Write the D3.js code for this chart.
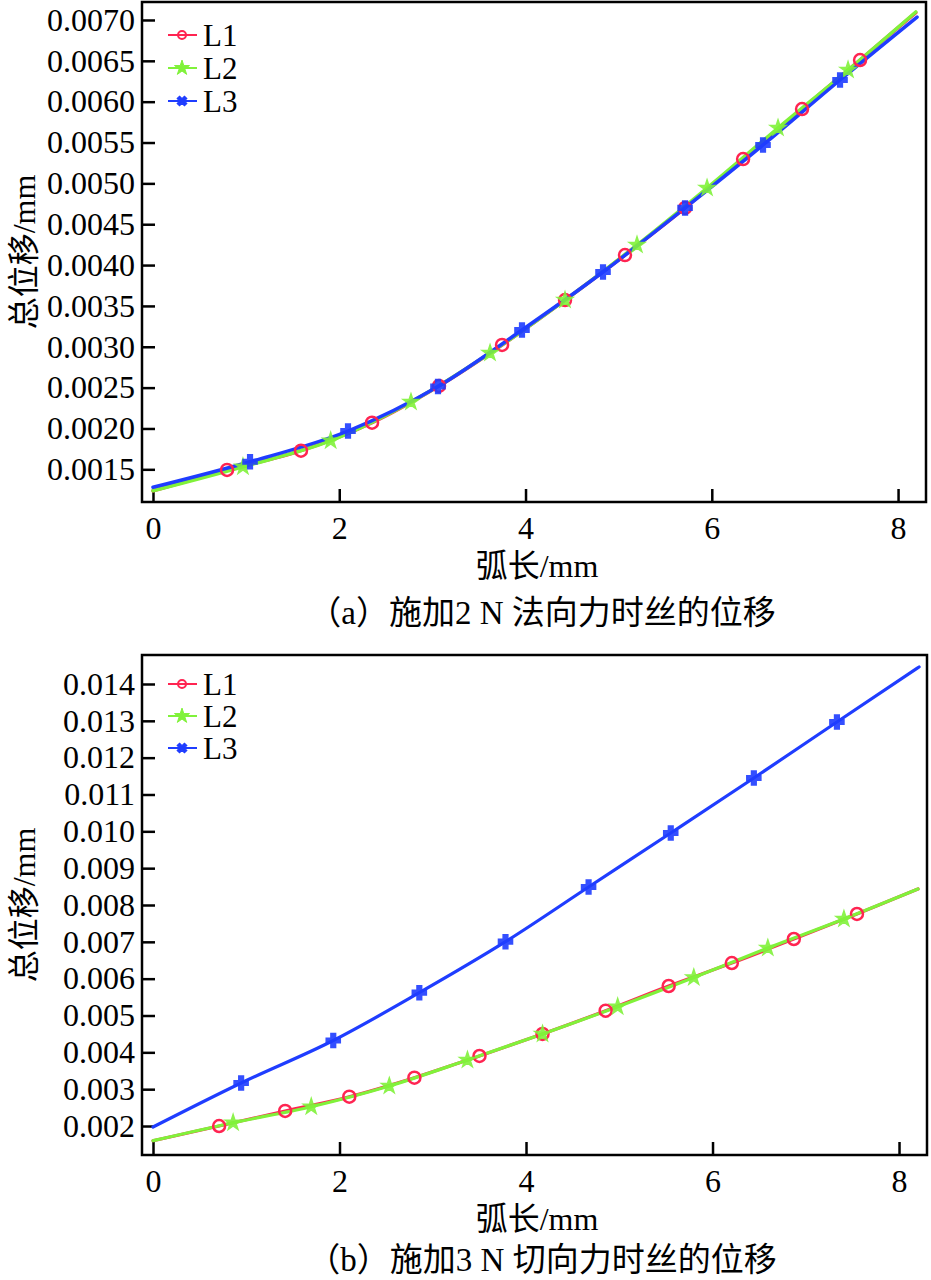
<!DOCTYPE html>
<html>
<head>
<meta charset="utf-8">
<script src="https://cdn.jsdelivr.net/npm/d3@7"></script>
<style>
  html, body { margin: 0; padding: 0; background: #fff; }
  svg { display: block; }
  text { font-family: "Liberation Serif", "Noto Sans CJK SC", serif; fill: #000; }
</style>
</head>
<body>
<svg id="chart" width="931" height="1280"></svg>
<script>
// ---------- data ----------
const seriesNames = ["L1", "L2", "L3"];
const seriesColors = ["#ff2451", "#80f23a", "#1f3dff"];
const xTicks = [0, 2, 4, 6, 8];
const yTicksA = [0.0015, 0.0020, 0.0025, 0.0030, 0.0035, 0.0040, 0.0045, 0.0050, 0.0055, 0.0060, 0.0065, 0.0070];
const yTicksB = [0.002, 0.003, 0.004, 0.005, 0.006, 0.007, 0.008, 0.009, 0.010, 0.011, 0.012, 0.013, 0.014];
const xLabel = "弧长/mm";
const yLabel = "总位移/mm";
const captionA = "（a）施加2 N 法向力时丝的位移";
const captionB = "（b）施加3 N 切向力时丝的位移";

// chart (a): first and last points are line ends, inner points carry markers
const a_L1_x = [0, 0.795, 1.589, 2.352, 3.071, 3.748, 4.424, 5.068, 5.713, 6.336, 6.969, 7.592, 8.19];
const a_L1_y = [0.001238, 0.001492, 0.001728, 0.002071, 0.00252, 0.003022, 0.003572, 0.004123, 0.004699, 0.005298, 0.00591, 0.00651, 0.00709];
const a_L2_x = [0, 0.966, 1.908, 2.770, 3.619, 4.424, 5.197, 5.949, 6.711, 7.463, 8.19];
const a_L2_y = [0.001238, 0.001532, 0.00185, 0.002324, 0.002924, 0.003572, 0.004246, 0.004943, 0.005678, 0.006388, 0.007098];
const a_L3_x = [0, 1.042, 2.094, 3.060, 3.962, 4.832, 5.713, 6.550, 7.377, 8.204];
const a_L3_y = [0.00128, 0.001593, 0.001969, 0.002514, 0.003205, 0.003915, 0.004699, 0.00547, 0.006265, 0.007036];

// chart (b)
const b_L1_x = [0, 0.709, 1.417, 2.105, 2.803, 3.501, 4.177, 4.854, 5.530, 6.207, 6.872, 7.549, 8.204];
const b_L1_y = [0.001601, 0.002, 0.002408, 0.002796, 0.003312, 0.003901, 0.004498, 0.00513, 0.005801, 0.006425, 0.007077, 0.007756, 0.008434];
const b_L2_x = [0, 0.859, 1.697, 2.534, 3.372, 4.177, 4.983, 5.799, 6.593, 7.409, 8.204];
const b_L2_y = [0.001601, 0.00209, 0.002524, 0.003086, 0.003792, 0.004498, 0.005239, 0.006032, 0.006833, 0.00762, 0.008434];
const b_L3_x = [0, 0.945, 1.933, 2.856, 3.780, 4.671, 5.552, 6.443, 7.334, 8.215];
const b_L3_y = [0.001973, 0.003168, 0.004321, 0.005619, 0.007004, 0.008489, 0.009955, 0.011448, 0.012968, 0.014461];

// ---------- drawing ----------
const svg = d3.select("#chart");
svg.append("rect").attr("width", 931).attr("height", 1280).attr("fill", "#fff");

const xDomain = [-0.118, 8.30];

function markerPath(i, size) {
  if (i === 1) return d3.symbol().type(d3.symbolStar).size(size)();
  return d3.symbol().type(d3.symbolCross).size(size)();
}

function drawPanel(cfg) {
  const g = svg.append("g");
  const x = d3.scaleLinear().domain(xDomain).range([cfg.left, cfg.right]);
  const y = d3.scaleLinear().domain(cfg.yDomain).range([cfg.bottom, cfg.top]);

  // axes (ticks inward)
  const xAxis = d3.axisBottom(x).tickValues(xTicks).tickFormat(d3.format("d"))
    .tickSizeInner(-13).tickSizeOuter(0).tickPadding(14);
  const gx = g.append("g").attr("transform", `translate(0,${cfg.bottom})`).call(xAxis);
  const yAxis = d3.axisLeft(y).tickValues(cfg.yTicks).tickFormat(d3.format(cfg.fmt))
    .tickSizeInner(-13).tickSizeOuter(0).tickPadding(7);
  const gy = g.append("g").attr("transform", `translate(${cfg.left},0)`).call(yAxis);
  [gx, gy].forEach(a => {
    a.select(".domain").remove();
    a.selectAll(".tick line").attr("stroke", "#000").attr("stroke-width", 2.5);
    a.selectAll(".tick text").attr("font-size", 32)
      .attr("font-family", "Liberation Serif, serif").attr("fill", "#000");
  });
  gx.selectAll(".tick text").attr("dy", null).attr("y", 0)
    .attr("transform", "translate(0,37)");

  // frame
  g.append("rect").attr("x", cfg.left).attr("y", cfg.top)
    .attr("width", cfg.right - cfg.left).attr("height", cfg.bottom - cfg.top)
    .attr("fill", "none").attr("stroke", "#000").attr("stroke-width", 2.5);

  const line = d3.line().x(d => x(d[0])).y(d => y(d[1])).curve(d3.curveMonotoneX);
  const series = cfg.series.map(s => d3.zip(s[0], s[1]));

  series.forEach((pts, i) => {
    g.append("path").attr("d", line(pts)).attr("fill", "none")
      .attr("stroke", seriesColors[i]).attr("stroke-width", cfg.lw)
      .attr("stroke-linejoin", "round").attr("stroke-linecap", "round");
  });
  series.forEach((pts, i) => {
    const inner = pts.slice(1, pts.length - 1);
    if (i === 0) {
      g.selectAll(null).data(inner).enter().append("circle")
        .attr("cx", d => x(d[0])).attr("cy", d => y(d[1])).attr("r", 6)
        .attr("fill", "none").attr("stroke", seriesColors[0]).attr("stroke-width", 2.5);
    } else {
      g.selectAll(null).data(inner).enter().append("path")
        .attr("d", markerPath(i, i === 1 ? 75 : 110))
        .attr("transform", d => `translate(${x(d[0])},${y(d[1])})`)
        .attr("fill", seriesColors[i]).attr("stroke", seriesColors[i])
        .attr("stroke-width", 1.5).attr("opacity", 0.9);
    }
  });

  // legend
  const lg = g.append("g");
  seriesNames.forEach((n, i) => {
    const cy = cfg.legendY[i];
    lg.append("line").attr("x1", 168).attr("x2", 197).attr("y1", cy).attr("y2", cy)
      .attr("stroke", seriesColors[i]).attr("stroke-width", 2);
    if (i === 0) {
      lg.append("circle").attr("cx", 182).attr("cy", cy).attr("r", 4)
        .attr("fill", "none").attr("stroke", seriesColors[0]).attr("stroke-width", 2);
    } else {
      lg.append("path").attr("d", markerPath(i, i === 1 ? 70 : 60))
        .attr("transform", `translate(182,${cy})${i === 2 ? " rotate(45)" : ""}`)
        .attr("fill", seriesColors[i]).attr("stroke", seriesColors[i]).attr("stroke-width", 1);
    }
    lg.append("text").attr("x", 203).attr("y", cy + 11).attr("font-size", 31).text(n);
  });

  // labels
  g.append("text").attr("x", 537).attr("y", cfg.bottom + 75)
    .attr("text-anchor", "middle").attr("font-size", 32).text(xLabel);
  g.append("text").attr("transform", `translate(35,${(cfg.top + cfg.bottom) / 2}) rotate(-90)`)
    .attr("text-anchor", "middle").attr("font-size", 32).text(yLabel);
  g.append("text").attr("x", 542).attr("y", cfg.bottom + cfg.capDy)
    .attr("text-anchor", "middle").attr("font-size", 33).text(cfg.caption);
}

drawPanel({
  left: 142, right: 926, top: 2, bottom: 502,
  yDomain: [0.0011, 0.00722], yTicks: yTicksA, fmt: ".4f", lw: 3.5,
  series: [[a_L1_x, a_L1_y], [a_L2_x, a_L2_y], [a_L3_x, a_L3_y]],
  legendY: [35, 68, 101], caption: captionA, capDy: 122
});
drawPanel({
  left: 142, right: 927, top: 655, bottom: 1155,
  yDomain: [0.001213, 0.014787], yTicks: yTicksB, fmt: ".3f", lw: 3.2,
  series: [[b_L1_x, b_L1_y], [b_L2_x, b_L2_y], [b_L3_x, b_L3_y]],
  legendY: [684, 716, 748], caption: captionB, capDy: 116
});
</script>
</body>
</html>
